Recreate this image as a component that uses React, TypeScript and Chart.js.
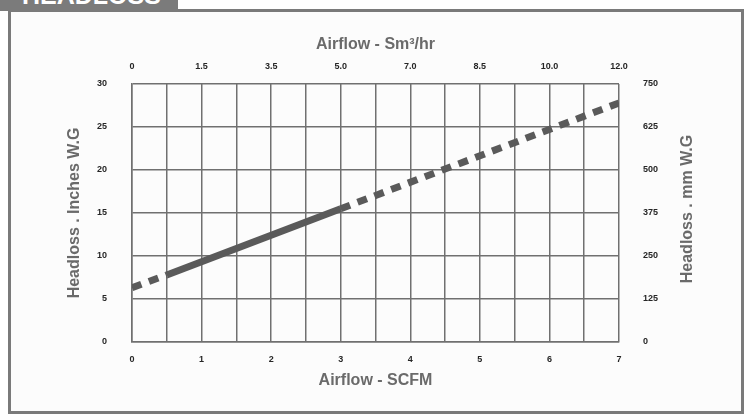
import React, { useEffect, useRef } from "react";
import { Chart, registerables } from "chart.js";

Chart.register(...registerables);

// ---- data ----
const flowScfm = [0, 0.5, 3, 7];
const headlossInches = [6.3, 7.8, 15.5, 27.8];
const solidSegmentStart = 1; // segment from point 1 to point 2 is solid
const topTickLabels = ["0", "1.5", "3.5", "5.0", "7.0", "8.5", "10.0", "12.0"];
const leftAxisRange = [0, 30];
const rightAxisRange = [0, 750];
const bottomAxisRange = [0, 7];
const rightTitle = "Headloss . mm W.G";

const FONT = "'Liberation Sans', Arial, Helvetica, sans-serif";
const GRID = "#707070";
const TICK_COLOR = "#262626";
const TITLE_COLOR = "#6a6a6a";
const LINE_COLOR = "#5a5a5a";

const rightTitlePlugin = {
  id: "rightTitleUp",
  afterDraw(chart: any) {
    const s = chart.scales.y2;
    if (!s) return;
    const ctx = chart.ctx;
    ctx.save();
    ctx.translate(s.right - 58, (s.top + s.bottom) / 2 - 4);
    ctx.rotate(-Math.PI / 2);
    ctx.font = `bold 16px ${FONT}`;
    ctx.fillStyle = TITLE_COLOR;
    ctx.textAlign = "center";
    ctx.textBaseline = "middle";
    ctx.fillText(rightTitle, 0, 0);
    ctx.restore();
  },
};

export default function App() {
  const ref = useRef<HTMLCanvasElement | null>(null);

  useEffect(() => {
    if (!ref.current) return;
    const tickFont = { family: FONT, size: 9, weight: "bold" as const };
    const titleFont = { family: FONT, size: 16, weight: "bold" as const };
    const chart = new Chart(ref.current, {
      type: "line",
      data: {
        datasets: [
          {
            data: flowScfm.map((x, i) => ({ x, y: headlossInches[i] })),
            borderColor: LINE_COLOR,
            borderWidth: 7,
            borderCapStyle: "butt",
            pointRadius: 0,
            tension: 0,
            segment: {
              borderDash: (ctx: any) => (ctx.p0DataIndex === solidSegmentStart ? [] : [10, 8]),
            },
          },
        ],
      },
      plugins: [rightTitlePlugin],
      options: {
        animation: false,
        responsive: false,
        maintainAspectRatio: false,
        layout: { padding: 0 },
        plugins: { legend: { display: false }, tooltip: { enabled: false } },
        scales: {
          x: {
            type: "linear",
            position: "bottom",
            min: bottomAxisRange[0],
            max: bottomAxisRange[1],
            afterFit: (s: any) => {
              s.height = 74;
            },
            ticks: {
              stepSize: 0.5,
              autoSkip: false,
              maxRotation: 0,
              padding: 12,
              font: tickFont,
              color: TICK_COLOR,
              callback: (v: any) => (Number.isInteger(v) ? String(v) : ""),
            },
            grid: { color: GRID, lineWidth: 1.5, drawTicks: false },
            border: { color: GRID, width: 1.5 },
            title: {
              display: true,
              text: "Airflow - SCFM",
              font: titleFont,
              color: TITLE_COLOR,
              padding: { top: 0, bottom: 26 },
            },
          },
          x2: {
            type: "linear",
            position: "top",
            min: bottomAxisRange[0],
            max: bottomAxisRange[1],
            afterFit: (s: any) => {
              s.height = 84;
            },
            ticks: {
              stepSize: 1,
              autoSkip: false,
              maxRotation: 0,
              padding: 12,
              font: tickFont,
              color: TICK_COLOR,
              callback: (_v: any, i: number) => topTickLabels[i],
            },
            grid: { display: false, drawTicks: false },
            border: { display: false },
            title: {
              display: true,
              text: "Airflow - Sm³/hr",
              font: titleFont,
              color: TITLE_COLOR,
              padding: { top: 35, bottom: 0 },
            },
          },
          y: {
            type: "linear",
            position: "left",
            min: leftAxisRange[0],
            max: leftAxisRange[1],
            afterFit: (s: any) => {
              s.width = 132;
            },
            ticks: { stepSize: 5, padding: 25, font: tickFont, color: TICK_COLOR },
            grid: { color: GRID, lineWidth: 1.5, drawTicks: false },
            border: { color: GRID, width: 1.5 },
            title: {
              display: true,
              text: "Headloss . Inches W.G",
              font: titleFont,
              color: TITLE_COLOR,
              padding: { top: 65, bottom: 0 },
            },
          },
          y2: {
            type: "linear",
            position: "right",
            min: rightAxisRange[0],
            max: rightAxisRange[1],
            afterFit: (s: any) => {
              s.width = 127;
            },
            ticks: { stepSize: 125, padding: 24, font: tickFont, color: TICK_COLOR },
            grid: { display: false, drawTicks: false },
            border: { display: false },
            title: { display: false },
          },
        },
      },
    } as any);
    return () => chart.destroy();
  }, []);

  return (
    <div
      style={{
        position: "fixed",
        left: 0,
        top: 0,
        width: 746,
        height: 416,
        background: "#ffffff",
        overflow: "hidden",
      }}
    >
      <div
        style={{
          position: "absolute",
          left: 8,
          top: 9,
          width: 736,
          height: 405,
          boxSizing: "border-box",
          border: "3px solid #7a7a7a",
          background: "#fcfcfc",
        }}
      />
      <div
        style={{
          position: "absolute",
          left: 0,
          top: 0,
          width: 178,
          height: 11,
          background: "#7b7b7b",
          overflow: "hidden",
        }}
      >
        <div
          style={{
            position: "absolute",
            left: 22,
            top: -17,
            fontFamily: FONT,
            fontWeight: "bold",
            fontSize: 25,
            lineHeight: "25px",
            color: "#ffffff",
            whiteSpace: "nowrap",
          }}
        >
          HEADLOSS
        </div>
      </div>
      <canvas
        ref={ref}
        width={746}
        height={416}
        style={{ position: "absolute", left: 0, top: 0, width: 746, height: 416 }}
      />
    </div>
  );
}
